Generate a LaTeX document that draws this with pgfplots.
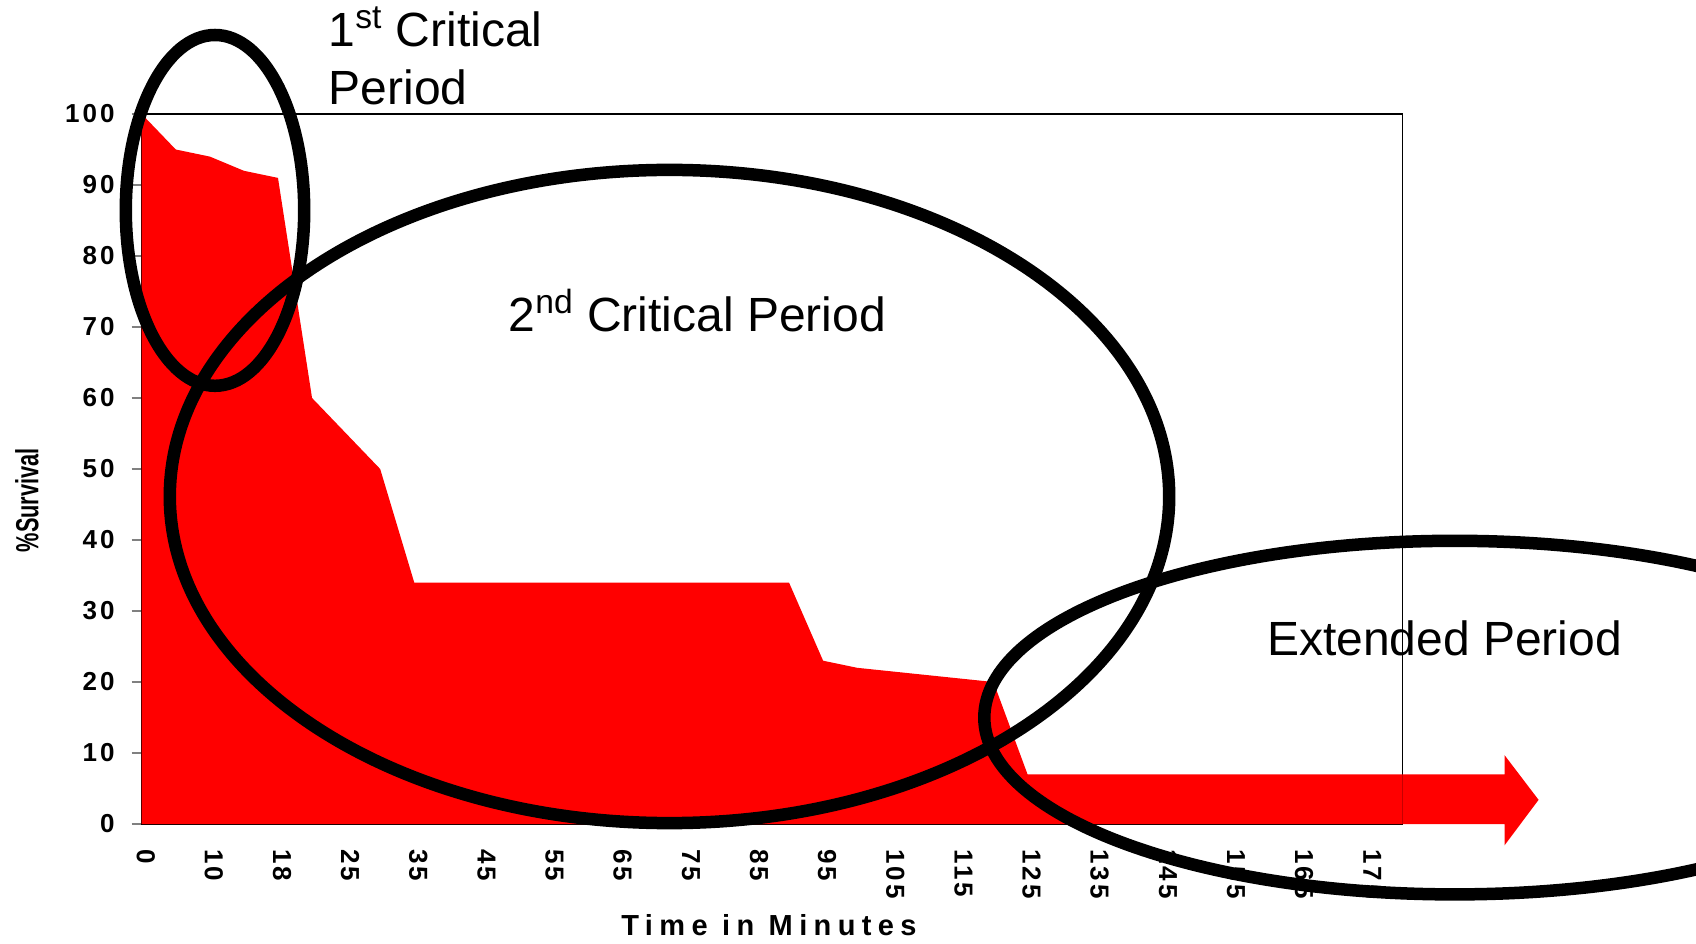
\documentclass[border=0pt]{standalone}
\usepackage{pgfplots}
\pgfplotsset{compat=1.18}
\usepackage{fontspec}
\setmainfont{Liberation Sans}
\newfontfamily\tickfont[LetterSpace=12]{Liberation Sans}
\newfontfamily\labelfont[LetterSpace=22]{Liberation Sans}
\pgfplotstableread{
idx val
0 100
1 95
2 94
3 92
4 91
5 60
6 55
7 50
8 34
9 34
10 34
11 34
12 34
13 34
14 34
15 34
16 34
17 34
18 34
19 34
20 23
21 22
22 21.5
23 21
24 20.5
25 20
26 7
27 7
28 7
29 7
30 7
31 7
32 7
33 7
34 7
35 7
36 7
37 7
}\survival
\begin{document}
\begin{tikzpicture}[x=0.5pt,y=0.5pt]
\useasboundingbox (0,0) rectangle (1696,943);
\clip (0,0) rectangle (1696,943);
\begin{axis}[
  at={(70.85pt,59.5pt)}, anchor=south west,
  scale only axis, width=630.3pt, height=355pt,
  xmin=0, xmax=37, ymin=0, ymax=100,
  clip=false,
  axis line style={line width=0.6pt},
  ytick={0,10,...,100},
  tick align=outside,
  major tick length=5pt,
  ytick pos=left,
  xtick pos=bottom,
  xtick={0,2,...,36},
  xticklabels={0,10,18,25,35,45,55,65,75,85,95,105,115,125,135,145,155,165,175},
  xtick style={draw=none},
  ytick style={line width=0.6pt},
  /pgf/number format/assume math mode=true,
  yticklabel style={font=\tickfont\bfseries\fontsize{13}{14}\selectfont, xshift=-5pt},
  xticklabel style={font=\tickfont\bfseries\fontsize{13}{14}\selectfont, yshift=-4pt, xshift=2pt, rotate=-90, anchor=west},
  xlabel={Time in Minutes},
  xlabel style={font=\labelfont\bfseries\fontsize{14.5}{16}\selectfont, at={(axis description cs:0.4976,-0.142)}, anchor=center},
  ylabel={\scalebox{0.68}[1]{\bfseries\fontsize{16}{18}\selectfont\%Survival}},
  ylabel style={at={(axis description cs:-0.091,0.456)}, anchor=center, rotate=0},
]
\addplot[fill=red, draw=none] table[x=idx, y=val] {\survival} \closedcycle;
\addplot[fill=red, draw=none] coordinates {(37,0) (37,7) (40,7) (40,9.7) (41,3.4) (40,-3) (40,0)} -- cycle;
\end{axis}
\draw[line width=6.25pt] (215,732.6) ellipse [x radius=89.2, y radius=175.4];
\draw[line width=6.25pt] (669.5,446.5) ellipse [x radius=499.7, y radius=326.6];
\draw[line width=6.25pt] (1454.8,225.4) ellipse [x radius=470.5, y radius=176.8];
\begin{scope}[every node/.style={inner sep=0pt, anchor=base west, font=\fontsize{24}{28}\selectfont}]
\node at (328.3,896.3) {1\textsuperscript{st} Critical};
\node at (328.3,838) {Period};
\node at (508.3,611.3) {2\textsuperscript{nd} Critical Period};
\node at (1266.7,288) {Extended Period};
\end{scope}
\end{tikzpicture}
\end{document}
